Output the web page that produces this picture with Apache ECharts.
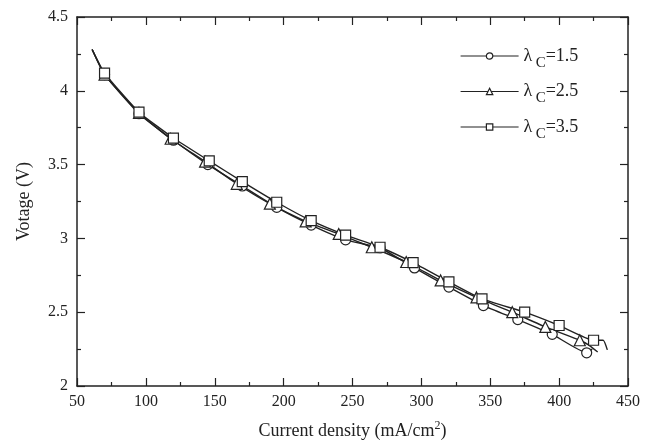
<!DOCTYPE html>
<html>
<head>
<meta charset="utf-8">
<script src="https://cdn.jsdelivr.net/npm/echarts@6/dist/echarts.min.js"></script>
<style>
	html, body { margin: 0; padding: 0; background: #fff; }
	#main { width: 653px; height: 445px; }
</style>
</head>
<body>
<div id="main"></div>
<script>
// marker points
var circX = [70, 95, 120, 145, 170, 195, 220, 245, 270, 295, 320, 345, 370, 395, 420];
var circY = [4.11, 3.845, 3.665, 3.50, 3.355, 3.21, 3.09, 2.99, 2.935, 2.80, 2.67, 2.545, 2.45, 2.35, 2.225];
var triX = [70, 95, 118, 143, 166, 190, 216, 240, 264, 289, 314, 340, 366, 390, 415];
var triY = [4.11, 3.85, 3.675, 3.52, 3.37, 3.235, 3.115, 3.03, 2.94, 2.84, 2.715, 2.60, 2.50, 2.40, 2.31];
var sqX = [70, 95, 120, 146, 170, 195, 220, 245, 270, 294, 320, 344, 375, 400, 425];
var sqY = [4.12, 3.855, 3.68, 3.525, 3.385, 3.245, 3.12, 3.022, 2.94, 2.836, 2.705, 2.59, 2.50, 2.41, 2.31];

// curve start and tails (no marker)
var headX = [61];
var headY = [4.28];
var circTailX = [424];
var circTailY = [2.25];
var triTailX = [421, 428];
var triTailY = [2.28, 2.23];
var sqTailX = [432, 435];
var sqTailY = [2.31, 2.245];

var names = ['λc=1.5', 'λc=2.5', 'λc=3.5'];
var legendText = {
	'λc=1.5': '{l|λ} {s|C}{l|=1.5}',
	'λc=2.5': '{l|λ} {s|C}{l|=2.5}',
	'λc=3.5': '{l|λ} {s|C}{l|=3.5}'
};

var xTicks = [50, 100, 150, 200, 250, 300, 350, 400, 450];
var yTicks = [2, 2.5, 3, 3.5, 4, 4.5];

var FONT = '"Liberation Serif", "Times New Roman", serif';

function buildData(xs, ys, tx, ty) {
	var d = [];
	for (var i = 0; i < headX.length; i++)
		d.push({ value: [headX[i], headY[i]], symbol: 'none' });
	for (var j = 0; j < xs.length; j++)
		d.push([xs[j], ys[j]]);
	for (var k = 0; k < tx.length; k++)
		d.push({ value: [tx[k], ty[k]], symbol: 'none' });
	return d;
}

function makeSeries(name, symbol, size, data) {
	return {
		name: name,
		type: 'line',
		data: data,
		symbol: symbol,
		symbolSize: size,
		showAllSymbol: true,
		smooth: 0.15,
		lineStyle: { color: '#222', width: 1.4 },
		itemStyle: { color: '#fff', borderColor: '#222', borderWidth: 1.2 },
		emphasis: { disabled: true },
		z: 2
	};
}

var tickStyle = { color: '#222', width: 1.2 };

function xAxisCfg(pos, showLabel) {
	return {
		type: 'value', position: pos,
		min: xTicks[0], max: xTicks[xTicks.length - 1], interval: 50,
		axisLine: { show: true, onZero: false, lineStyle: { color: '#222', width: 1.5 } },
		axisTick: { show: true, inside: true, length: 8, lineStyle: tickStyle },
		minorTick: { show: true, splitNumber: 2, length: 4, lineStyle: tickStyle },
		splitLine: { show: false },
		axisLabel: { show: showLabel, color: '#222', fontFamily: FONT, fontSize: 16, margin: 8 }
	};
}

function yAxisCfg(pos, showLabel) {
	return {
		type: 'value', position: pos,
		min: yTicks[0], max: yTicks[yTicks.length - 1], interval: 0.5,
		axisLine: { show: true, onZero: false, lineStyle: { color: '#222', width: 1.5 } },
		axisTick: { show: true, inside: true, length: 8, lineStyle: tickStyle },
		minorTick: { show: true, splitNumber: 2, length: 4, lineStyle: tickStyle },
		splitLine: { show: false },
		axisLabel: { show: showLabel, color: '#222', fontFamily: FONT, fontSize: 16, margin: 9 }
	};
}

var chart = echarts.init(document.getElementById('main'), null, { renderer: 'canvas' });

var xb = xAxisCfg('bottom', true);
xb.name = 'Current density (mA/cm{sup|2})';
xb.nameLocation = 'middle';
xb.nameGap = 34;
xb.nameTextStyle = {
	color: '#222', fontFamily: FONT, fontSize: 18,
	rich: { sup: { fontFamily: FONT, fontSize: 12, color: '#222', padding: [0, 0, 10, 0] } }
};
var xt = xAxisCfg('top', false);

var yl = yAxisCfg('left', true);
yl.name = 'Votage (V)';
yl.nameLocation = 'middle';
yl.nameGap = 44;
yl.nameTextStyle = { color: '#222', fontFamily: FONT, fontSize: 18 };
var yr = yAxisCfg('right', false);

var option = {
	backgroundColor: '#fff',
	animation: false,
	grid: { left: 77, right: 25, top: 17, bottom: 59, containLabel: false },
	legend: {
		data: names,
		orient: 'vertical',
		left: 455,
		top: 42,
		itemWidth: 58,
		itemHeight: 8,
		itemGap: 12,
		itemStyle: { color: '#fff', borderColor: '#222', borderWidth: 1.2 },
		lineStyle: { color: '#222', width: 1.2 },
		formatter: function (n) { return legendText[n]; },
		textStyle: {
			color: '#222',
			rich: {
				l: { fontFamily: FONT, fontSize: 18, color: '#222' },
				s: { fontFamily: FONT, fontSize: 15, color: '#222', padding: [14, 0, 0, 0] }
			}
		}
	},
	xAxis: [xb, xt],
	yAxis: [yl, yr],
	series: [
		makeSeries(names[0], 'circle', 10, buildData(circX, circY, circTailX, circTailY)),
		makeSeries(names[1], 'triangle', 11, buildData(triX, triY, triTailX, triTailY)),
		makeSeries(names[2], 'rect', 10, buildData(sqX, sqY, sqTailX, sqTailY))
	]
};

chart.setOption(option, true);
</script>
</body>
</html>
